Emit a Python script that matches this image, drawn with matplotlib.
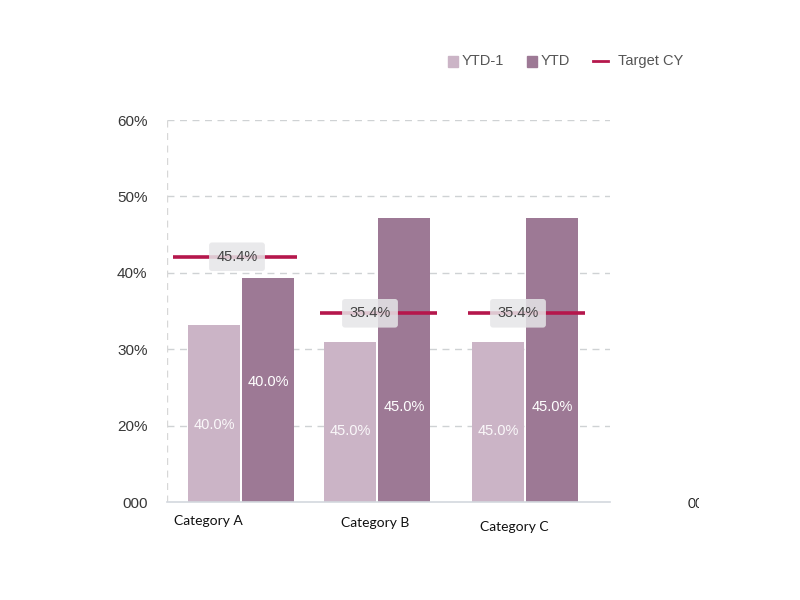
import matplotlib
matplotlib.use("Agg")
import matplotlib.pyplot as plt
from matplotlib.patches import Rectangle

plt.rcParams["font.family"] = ["Liberation Sans", "DejaVu Sans"]

# ---- data ----
categories = ["Category A", "Category B", "Category C"]
ytd_prev = [33.2, 30.9, 30.9]          # YTD-1 bar heights (%)
ytd = [39.3, 47.2, 47.2]               # YTD bar heights (%)
target = [42.1, 34.7, 34.7]            # Target CY line values (%)
ytd_prev_labels = ["40.0%", "45.0%", "45.0%"]
ytd_labels = ["40.0%", "45.0%", "45.0%"]
target_labels = ["45.4%", "35.4%", "35.4%"]
y_ticks = [10, 20, 30, 40, 50, 60]
y_tick_labels = ["000", "20%", "30%", "40%", "50%", "60%"]

# ---- layout (pixel-like units) ----
group_x = [241, 377, 525]
bar_w = 52
bar_gap = 2
target_center = [235, 378.5, 526.5]
target_half = [62, 58.5, 58.5]
target_box_x = [237, 370, 518]
prev_label_y = [20.1, 19.3, 19.3]
ytd_label_y = [25.7, 22.4, 22.4]
cat_label_pos = [(208, 521), (375, 523), (514, 527)]

c_prev = "#cbb4c6"
c_ytd = "#9d7995"
c_target = "#b5174c"

fig = plt.figure(figsize=(8, 6), dpi=100)
ax = fig.add_axes([167 / 800, (600 - 502) / 600, 443 / 800, 382 / 600])
ax.set_xlim(167, 610)
ax.set_ylim(10, 60)

for i in range(len(categories)):
    xl = group_x[i] - bar_gap / 2 - bar_w / 2
    xr = group_x[i] + bar_gap / 2 + bar_w / 2
    ax.bar(xl, ytd_prev[i] - 10, bottom=10, width=bar_w, color=c_prev, zorder=2)
    ax.bar(xr, ytd[i] - 10, bottom=10, width=bar_w, color=c_ytd, zorder=2)
    ax.text(xl, prev_label_y[i], ytd_prev_labels[i], color="white", ha="center",
            va="center", fontsize=10.5, zorder=4, alpha=0.9)
    ax.text(xr, ytd_label_y[i], ytd_labels[i], color="white", ha="center",
            va="center", fontsize=10.5, zorder=4)
    ax.hlines(target[i], target_center[i] - target_half[i],
              target_center[i] + target_half[i],
              color=c_target, lw=2.6, zorder=3)
    ax.text(target_box_x[i], target[i], target_labels[i], color="#444444",
            ha="center", va="center", fontsize=10.5, zorder=5,
            bbox=dict(boxstyle="round,pad=0.5,rounding_size=0.2",
                      fc="#e6e6e8", ec="none", alpha=0.85))

ax.set_yticks(y_ticks)
ax.set_yticklabels(y_tick_labels, fontsize=11, color="#383838")
ax.tick_params(axis="y", length=0, pad=14)
ax.set_xticks([])
for y in y_ticks[1:]:
    ax.axhline(y, color="#cfd2d4", lw=1, ls=(0, (5, 4)), zorder=1)
ax.axvline(167, color="#d7d7d7", lw=1, ls=(0, (5, 4)), zorder=1)
for s in ["top", "right", "left"]:
    ax.spines[s].set_visible(False)
ax.spines["bottom"].set_color("#d3d8de")
ax.spines["bottom"].set_linewidth(1.2)

# category labels
for name, (px, py) in zip(categories, cat_label_pos):
    fig.text(px / 800, 1 - py / 600, name, ha="center", va="center",
             fontsize=10, family="Lato", color="#111111")

# stray clipped label at right
t = fig.text(688 / 800, 1 - 504 / 600, "000", ha="left", va="center",
             fontsize=10, family="Lato", color="#222222")
clip = Rectangle((0, 0), 699, 600, transform=None, visible=False)
fig.add_artist(clip)
t.set_clip_path(clip)
t.set_clip_on(True)

# legend
ly = 1 - 61 / 600
fig.patches.append(Rectangle((448 / 800, 1 - 67 / 600), 10 / 800, 11 / 600,
                             transform=fig.transFigure, color=c_prev))
fig.text(462 / 800, ly, "YTD-1", fontsize=10.5, color="#555555", va="center")
fig.patches.append(Rectangle((527 / 800, 1 - 67 / 600), 10 / 800, 11 / 600,
                             transform=fig.transFigure, color=c_ytd))
fig.text(541 / 800, ly, "YTD", fontsize=10.5, color="#555555", va="center")
fig.add_artist(plt.Line2D([593 / 800, 608 / 800], [ly, ly], color=c_target, lw=2,
                          transform=fig.transFigure))
fig.text(618 / 800, ly, "Target CY", fontsize=10.5, color="#555555", va="center")

fig.savefig("out.png", dpi=100)
